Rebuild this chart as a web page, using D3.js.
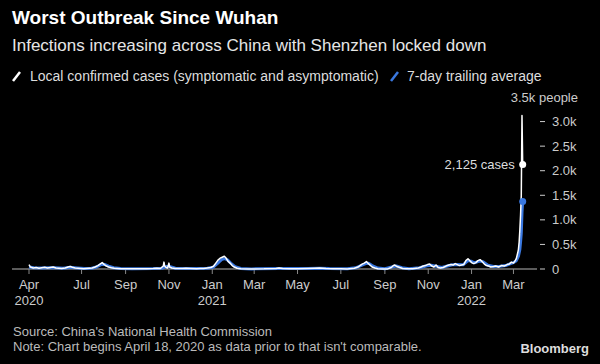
<!DOCTYPE html>
<html>
<head>
    <script src="https://cdn.jsdelivr.net/npm/d3@7"></script>
    <style>
        body { margin: 0; background: #000; }
        #chart { width: 600px; height: 364px; display: block; }
        text { font-family: "Liberation Sans", Arial, sans-serif; }
    </style>
</head>
<body>

<svg id="chart"></svg>

<script>
    // daily local confirmed cases (symptomatic + asymptomatic)
    const dailyDates = [
        "2020-04-18","2020-04-20","2020-04-24","2020-04-28","2020-05-02","2020-05-06","2020-05-10","2020-05-14",
        "2020-05-18","2020-05-22","2020-05-26","2020-05-30","2020-06-03","2020-06-08","2020-06-12","2020-06-15",
        "2020-06-18","2020-06-22","2020-06-26","2020-06-30","2020-07-04","2020-07-08","2020-07-12","2020-07-16",
        "2020-07-20","2020-07-24","2020-07-28","2020-07-30","2020-08-02","2020-08-05","2020-08-08","2020-08-12",
        "2020-08-16","2020-08-20","2020-08-25","2020-09-01","2020-09-10","2020-09-20","2020-10-01","2020-10-10",
        "2020-10-15","2020-10-20","2020-10-24","2020-10-25","2020-10-26","2020-10-28","2020-10-30","2020-11-01",
        "2020-11-02","2020-11-05","2020-11-10","2020-11-20","2020-11-25","2020-12-01","2020-12-10","2020-12-15",
        "2020-12-20","2020-12-25","2020-12-30","2021-01-03","2021-01-06","2021-01-09","2021-01-12","2021-01-15",
        "2021-01-18","2021-01-20","2021-01-23","2021-01-26","2021-01-29","2021-02-01","2021-02-05","2021-02-10",
        "2021-02-20","2021-03-01","2021-03-15","2021-04-01","2021-04-05","2021-04-10","2021-04-20","2021-05-01",
        "2021-05-15","2021-05-25","2021-06-01","2021-06-10","2021-06-20","2021-07-01","2021-07-10","2021-07-20",
        "2021-07-25","2021-07-28","2021-07-31","2021-08-03","2021-08-06","2021-08-08","2021-08-11","2021-08-14",
        "2021-08-18","2021-08-22","2021-08-30","2021-09-05","2021-09-10","2021-09-13","2021-09-15","2021-09-18",
        "2021-09-22","2021-09-26","2021-10-01","2021-10-10","2021-10-18","2021-10-22","2021-10-25","2021-10-28",
        "2021-10-31","2021-11-03","2021-11-06","2021-11-09","2021-11-12","2021-11-15","2021-11-18","2021-11-22",
        "2021-11-26","2021-11-30","2021-12-03","2021-12-06","2021-12-09","2021-12-12","2021-12-15","2021-12-18",
        "2021-12-21","2021-12-24","2021-12-27","2021-12-29","2022-01-01","2022-01-04","2022-01-07","2022-01-10",
        "2022-01-13","2022-01-16","2022-01-19","2022-01-22","2022-01-25","2022-01-28","2022-02-01","2022-02-04",
        "2022-02-08","2022-02-12","2022-02-16","2022-02-20","2022-02-23","2022-02-26","2022-03-01","2022-03-03",
        "2022-03-05","2022-03-07","2022-03-08","2022-03-09","2022-03-10","2022-03-11","2022-03-12","2022-03-13",
        "2022-03-14"
    ];
    const dailyCases = [
        90, 40, 20, 30, 15, 25, 35, 20,
        30, 40, 20, 15, 10, 20, 40, 50,
        35, 20, 15, 10, 5, 10, 15, 20,
        40, 70, 110, 130, 90, 60, 40, 25,
        15, 10, 5, 5, 3, 5, 5, 10,
        15, 10, 60, 140, 60, 30, 20, 120,
        40, 20, 10, 10, 15, 10, 5, 10,
        10, 20, 30, 60, 120, 180, 220, 240,
        260, 230, 160, 120, 70, 40, 15, 5,
        2, 2, 3, 10, 20, 8, 5, 3,
        10, 15, 20, 10, 5, 3, 2, 15,
        40, 70, 100, 120, 150, 120, 80, 40,
        20, 5, 2, 2, 30, 70, 80, 50,
        30, 10, 5, 3, 20, 40, 60, 70,
        90, 100, 60, 40, 80, 30, 20, 30,
        60, 80, 90, 80, 110, 90, 70, 80,
        90, 170, 210, 180, 130, 110, 130, 170,
        190, 150, 100, 70, 60, 40, 50, 60,
        40, 70, 60, 90, 100, 140, 120, 160,
        210, 330, 400, 550, 800, 1100, 1500, 3122,
        2125
    ];

    // 7-day trailing average
    const avgDates = [
        "2020-04-18","2020-04-25","2020-05-05","2020-05-15","2020-05-25","2020-06-05","2020-06-15","2020-06-25",
        "2020-07-05","2020-07-15","2020-07-22","2020-07-29","2020-08-03","2020-08-08","2020-08-15","2020-08-25",
        "2020-09-10","2020-10-10","2020-10-22","2020-10-28","2020-11-03","2020-11-10","2020-11-25","2020-12-10",
        "2020-12-25","2021-01-02","2021-01-08","2021-01-14","2021-01-18","2021-01-22","2021-01-27","2021-02-02",
        "2021-02-10","2021-02-25","2021-04-05","2021-04-15","2021-05-15","2021-06-01","2021-06-15","2021-07-10",
        "2021-07-22","2021-07-30","2021-08-05","2021-08-09","2021-08-14","2021-08-22","2021-09-01","2021-09-12",
        "2021-09-17","2021-09-25","2021-10-05","2021-10-20","2021-10-30","2021-11-05","2021-11-12","2021-11-20",
        "2021-11-28","2021-12-05","2021-12-12","2021-12-20","2021-12-27","2021-12-31","2022-01-05","2022-01-12",
        "2022-01-17","2022-01-24","2022-02-01","2022-02-10","2022-02-18","2022-02-25","2022-03-01","2022-03-05",
        "2022-03-08","2022-03-10","2022-03-11","2022-03-12","2022-03-13","2022-03-14"
    ];
    const avgCases = [
        40, 25, 20, 25, 25, 15, 35, 20,
        8, 15, 40, 95, 90, 60, 25, 8,
        3, 8, 15, 50, 45, 15, 10, 8,
        15, 35, 110, 190, 210, 190, 120, 50,
        10, 2, 12, 8, 8, 15, 8, 4,
        25, 75, 110, 115, 70, 20, 5, 45,
        60, 25, 5, 25, 65, 75, 55, 30,
        60, 85, 90, 85, 170, 160, 125, 160,
        150, 75, 50, 55, 70, 110, 130, 170,
        260, 400, 550, 730, 1150, 1373
    ];

    const yTicks = [0, 500, 1000, 1500, 2000, 2500, 3000];
    const yTickLabels = ["0", "0.5k", "1.0k", "1.5k", "2.0k", "2.5k", "3.0k"];
    const xTickDates = ["2020-04-18","2020-07-01","2020-09-01","2020-11-01","2021-01-01","2021-03-01",
                        "2021-05-01","2021-07-01","2021-09-01","2021-11-01","2022-01-01","2022-03-01"];
    const xTickLabels = ["Apr","Jul","Sep","Nov","Jan","Mar","May","Jul","Sep","Nov","Jan","Mar"];
    const xYearLabels = ["2020","","","","2021","","","","","","2022",""];

    const parse = d3.timeParse("%Y-%m-%d");
    const daily = dailyDates.map((d, i) => ({date: parse(d), value: dailyCases[i]}));
    const avg = avgDates.map((d, i) => ({date: parse(d), value: avgCases[i]}));

    const svg = d3.select("#chart");
    svg.append("rect").attr("width", 600).attr("height", 364).attr("fill", "#000");

    const x = d3.scaleTime()
        .domain([parse("2020-04-18"), parse("2022-03-14")])
        .range([29, 522.7]);
    const y = d3.scaleLinear().domain([0, 3500]).range([269, 97]);

    // titles
    svg.append("text").attr("x", 12).attr("y", 24)
        .attr("fill", "#fff").attr("font-size", 19).attr("font-weight", "bold")
        .text("Worst Outbreak Since Wuhan");
    svg.append("text").attr("x", 12).attr("y", 51)
        .attr("fill", "#e6e6e6").attr("font-size", 17)
        .text("Infections increasing across China with Shenzhen locked down");

    // legend
    svg.append("line").attr("x1", 13).attr("y1", 81).attr("x2", 20).attr("y2", 72)
        .attr("stroke", "#fff").attr("stroke-width", 2.5);
    svg.append("text").attr("x", 30).attr("y", 81)
        .attr("fill", "#ddd").attr("font-size", 14)
        .text("Local confirmed cases (symptomatic and asymptomatic)");
    svg.append("line").attr("x1", 391).attr("y1", 81).attr("x2", 398).attr("y2", 72)
        .attr("stroke", "#3a78e0").attr("stroke-width", 2.5);
    svg.append("text").attr("x", 407).attr("y", 81)
        .attr("fill", "#ddd").attr("font-size", 14)
        .text("7-day trailing average");

    // baseline + x ticks
    svg.append("line").attr("x1", 12).attr("x2", 537).attr("y1", y(0)).attr("y2", y(0))
        .attr("stroke", "#7a7a7a").attr("stroke-width", 1.5);
    const xt = svg.append("g");
    xTickDates.forEach((d, i) => {
        const px = x(parse(d));
        xt.append("line").attr("x1", px).attr("x2", px).attr("y1", y(0)).attr("y2", y(0) + 5)
            .attr("stroke", "#888").attr("stroke-width", 1);
        xt.append("text").attr("x", px).attr("y", 289).attr("text-anchor", "middle")
            .attr("fill", "#ccc").attr("font-size", 13).text(xTickLabels[i]);
        if (xYearLabels[i]) {
            xt.append("text").attr("x", px).attr("y", 305).attr("text-anchor", "middle")
                .attr("fill", "#ccc").attr("font-size", 13).text(xYearLabels[i]);
        }
    });

    // y axis on the right
    const yt = svg.append("g");
    yTicks.forEach((v, i) => {
        yt.append("line").attr("x1", 540).attr("x2", 545).attr("y1", y(v)).attr("y2", y(v))
            .attr("stroke", "#ccc").attr("stroke-width", 1);
        yt.append("text").attr("x", 552).attr("y", y(v) + 4.5)
            .attr("fill", "#ccc").attr("font-size", 13).text(yTickLabels[i]);
    });
    svg.append("text").attr("x", 578).attr("y", 102).attr("text-anchor", "end")
        .attr("fill", "#ccc").attr("font-size", 13).text("3.5k people");

    // lines
    const line = d3.line().x(d => x(d.date)).y(d => y(d.value));
    svg.append("path").datum(avg).attr("d", line)
        .attr("fill", "none").attr("stroke", "#3a78e0").attr("stroke-width", 3)
        .attr("stroke-linejoin", "round");
    svg.append("path").datum(daily).attr("d", line)
        .attr("fill", "none").attr("stroke", "#fff").attr("stroke-width", 1.5)
        .attr("stroke-linejoin", "round");

    // end markers
    const lastDaily = daily[daily.length - 1];
    const lastAvg = avg[avg.length - 1];
    svg.append("circle").attr("cx", x(lastAvg.date)).attr("cy", y(lastAvg.value)).attr("r", 3.5)
        .attr("fill", "#3a78e0");
    svg.append("circle").attr("cx", x(lastDaily.date)).attr("cy", y(lastDaily.value)).attr("r", 3.5)
        .attr("fill", "#fff");
    svg.append("text").attr("x", x(lastDaily.date) - 8).attr("y", y(lastDaily.value) + 4.5)
        .attr("text-anchor", "end").attr("fill", "#ddd").attr("font-size", 13)
        .text(d3.format(",")(lastDaily.value) + " cases");

    // footer
    svg.append("text").attr("x", 13).attr("y", 336).attr("fill", "#bbb").attr("font-size", 13)
        .text("Source: China's National Health Commission");
    svg.append("text").attr("x", 13).attr("y", 351).attr("fill", "#bbb").attr("font-size", 13)
        .text("Note: Chart begins April 18, 2020 as data prior to that isn't comparable.");
    svg.append("text").attr("x", 589).attr("y", 353).attr("text-anchor", "end")
        .attr("fill", "#ddd").attr("font-size", 13).attr("font-weight", "bold")
        .text("Bloomberg");
</script>
</body>
</html>
